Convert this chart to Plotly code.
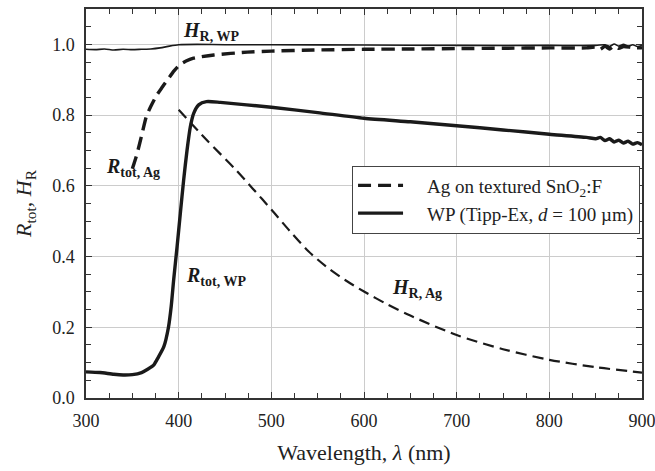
import plotly.graph_objects as go

# ---------------- data ----------------
# H_R, WP  (thin solid)
wl_hr_wp = [300, 310, 320, 330, 340, 350, 360, 370, 380, 390, 400, 420, 450, 500, 600, 700,
            800, 850, 860, 865, 870, 875, 880, 885, 890, 895, 900]
hr_wp = [0.986, 0.985, 0.987, 0.984, 0.986, 0.985, 0.986, 0.987, 0.990, 0.995, 0.999, 1.000,
         0.999, 0.999, 0.998, 0.997, 0.997, 0.997, 0.999, 0.994, 1.001, 0.995, 1.000, 0.995,
         0.999, 0.994, 0.997]

# R_tot, Ag  (thick dashed)
wl_rtot_ag = [350, 355, 360, 365, 370, 376, 382, 388, 395, 401, 408, 416, 438, 474, 500, 546,
              600, 654, 700, 750, 800, 840, 850, 855, 860, 865, 870, 875, 880, 890, 900]
rtot_ag = [0.648, 0.690, 0.742, 0.795, 0.825, 0.855, 0.878, 0.900, 0.925, 0.942, 0.953, 0.961,
           0.970, 0.978, 0.981, 0.984, 0.986, 0.987, 0.988, 0.989, 0.990, 0.990, 0.992, 0.986,
           0.995, 0.987, 0.996, 0.989, 0.994, 0.991, 0.990]

# R_tot, WP  (thick solid)
wl_rtot_wp = [300, 315, 330, 340, 350, 360, 367, 373, 378, 384, 389, 392, 394.6, 398.3, 401.8,
              405.4, 409, 412.6, 416.2, 421.6, 430, 445, 500, 550, 600, 650, 700, 750, 800,
              840, 850, 855, 860, 865, 870, 875, 880, 885, 890, 895, 900]
rtot_wp = [0.074, 0.072, 0.067, 0.065, 0.066, 0.072, 0.082, 0.093, 0.115, 0.145, 0.200, 0.260,
           0.334, 0.428, 0.522, 0.617, 0.700, 0.767, 0.805, 0.829, 0.838, 0.836, 0.822, 0.807,
           0.791, 0.781, 0.770, 0.758, 0.746, 0.737, 0.733, 0.737, 0.728, 0.733, 0.724, 0.729,
           0.721, 0.726, 0.718, 0.722, 0.716]

# H_R, Ag  (thin dashed)
wl_hr_ag = [400, 430, 460, 480, 500, 520, 540, 560, 580, 600, 625, 650, 700, 750, 800, 850, 900]
hr_ag = [0.815, 0.730, 0.650, 0.592, 0.533, 0.472, 0.415, 0.370, 0.333, 0.301, 0.265, 0.233,
         0.178, 0.138, 0.108, 0.087, 0.072]

legend_names = ["Ag on textured SnO<sub>2</sub>:F", "WP (Tipp-Ex, <i>d</i> = 100 µm)"]
x_ticks = [300, 400, 500, 600, 700, 800, 900]
y_ticks = [0.0, 0.2, 0.4, 0.6, 0.8, 1.0]
y_tick_text = ["0.0", "0.2", "0.4", "0.6", "0.8", "1.0"]

# curve labels: (text, x, y)
labels = [
    ("<b><i>H</i><sub>R, WP</sub></b>", 402, 1.035),
    ("<b><i>R</i><sub>tot, Ag</sub></b>", 319, 0.653),
    ("<b><i>R</i><sub>tot, WP</sub></b>", 406, 0.343),
    ("<b><i>H</i><sub>R, Ag</sub></b>", 628, 0.310),
]

SERIF = "Liberation Serif"
INK = "#1a1a1a"
GAP = "\u2003"  # visual gap between legend sample and label

fig = go.Figure()
fig.add_trace(go.Scatter(x=wl_hr_wp, y=hr_wp, mode="lines", showlegend=False,
                         line=dict(color=INK, width=1.6, shape="spline", smoothing=0.6)))
fig.add_trace(go.Scatter(x=wl_hr_ag, y=hr_ag, mode="lines", showlegend=False,
                         line=dict(color=INK, width=2.2, dash="11px,6px", shape="spline",
                                   smoothing=0.8)))
fig.add_trace(go.Scatter(x=wl_rtot_ag, y=rtot_ag, mode="lines", name=GAP + legend_names[0],
                         line=dict(color=INK, width=3.4, dash="13px,7px", shape="spline",
                                   smoothing=0.6)))
fig.add_trace(go.Scatter(x=wl_rtot_wp, y=rtot_wp, mode="lines", name=GAP + legend_names[1],
                         line=dict(color=INK, width=3.4, shape="spline", smoothing=0.6)))

for txt, lx, ly in labels:
    fig.add_annotation(x=lx, y=ly, text=txt, showarrow=False, xanchor="left", yanchor="middle",
                       font=dict(family=SERIF, size=20, color=INK))

axis_common = dict(
    showline=True, linecolor="#333", linewidth=1.5, mirror="ticks",
    ticks="inside", ticklen=6, tickwidth=1.2, tickcolor="#333",
    showgrid=True, gridcolor="#cccccc", gridwidth=1, zeroline=False,
    tickfont=dict(family=SERIF, size=18, color="#222"),
    ticklabeloverflow="allow", automargin=False,
)

fig.update_xaxes(range=[300, 900], tickvals=x_ticks, ticklabelstandoff=6,
                 minor=dict(dtick=25, ticks="inside", ticklen=5, tickcolor="#333", showgrid=False),
                 title=dict(text="Wavelength, <i>λ</i> (nm)", standoff=14,
                            font=dict(family=SERIF, size=22, color="#222")),
                 **axis_common)
fig.update_yaxes(range=[0, 1.1], tickvals=y_ticks, ticktext=y_tick_text, ticklabelstandoff=6,
                 minor=dict(dtick=0.05, ticks="inside", ticklen=5, tickcolor="#333", showgrid=False),
                 title=dict(text="<i>R</i><sub>tot</sub>, <i>H</i><sub>R</sub>", standoff=14,
                            font=dict(family=SERIF, size=22, color="#222")),
                 **axis_common)

fig.update_layout(
    width=655, height=471,
    margin=dict(l=86, r=13, t=9, b=73),
    paper_bgcolor="white", plot_bgcolor="white",
    legend=dict(x=0.4785, y=0.5976, xanchor="left", yanchor="top",
                bgcolor="white", bordercolor="#444", borderwidth=1,
                font=dict(family=SERIF, size=19, color="#222"),
                itemwidth=45, tracegroupgap=4),
)

fig.write_html("out.html")
